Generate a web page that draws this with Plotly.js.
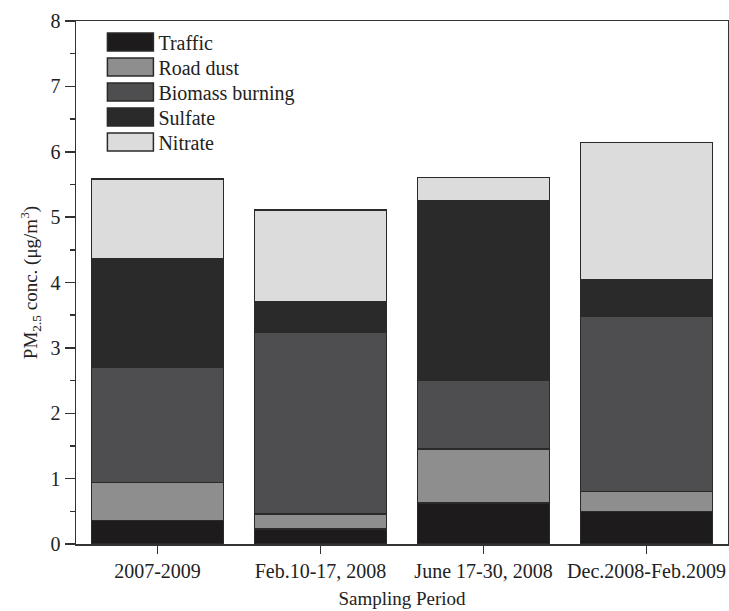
<!DOCTYPE html>
<html>
<head>
<meta charset="utf-8">
<script src="https://cdn.plot.ly/plotly-3.0.1.min.js"></script>
<style>
  html, body { margin: 0; padding: 0; background: #ffffff; }
  #chart { width: 729px; height: 611px; }
</style>
</head>
<body>
<div id="chart"></div>
<script>
// Sampling periods (x categories)
const periods = ['2007-2009', 'Feb.10-17, 2008', 'June 17-30, 2008', 'Dec.2008-Feb.2009'];

// Source contributions to PM2.5, µg/m3, stacked bottom to top
const traffic  = [0.36, 0.23, 0.63, 0.50];
const roadDust = [0.58, 0.23, 0.82, 0.30];
const biomass  = [1.76, 2.78, 1.06, 2.68];
const sulfate  = [1.66, 0.47, 2.74, 0.56];
const nitrate  = [1.22, 1.40, 0.36, 2.10];

const sourceNames = ['Traffic', 'Road dust', 'Biomass burning', 'Sulfate', 'Nitrate'];
const sourceValues = [traffic, roadDust, biomass, sulfate, nitrate];
const fills = ['#1e1b1c', '#8e8e8e', '#4e4e50', '#2b2a2b', '#dcdcdd'];

const serif = 'Liberation Serif, Times New Roman, serif';
const ink = '#222222';

const traces = sourceNames.map((name, i) => ({
  type: 'bar',
  name: name,
  x: periods,
  y: sourceValues[i],
  marker: { color: fills[i], line: { color: '#2a2a2a', width: 1.5 } },
  hoverinfo: 'name+y'
}));

const layout = {
  width: 729,
  height: 611,
  margin: { l: 76, r: 1, t: 21, b: 67 },
  paper_bgcolor: '#ffffff',
  plot_bgcolor: '#ffffff',
  barmode: 'stack',
  bargap: 0.19,
  font: { family: serif, size: 20, color: ink },
  showlegend: true,
  legend: {
    x: 0.0405, y: 0.997, xanchor: 'left', yanchor: 'top',
    bgcolor: 'rgba(0,0,0,0)', borderwidth: 0,
    traceorder: 'normal', itemwidth: 46,
    font: { family: serif, size: 20, color: ink }
  },
  xaxis: {
    type: 'category',
    showline: true, linecolor: '#333333', linewidth: 1.5, mirror: true,
    ticks: 'outside', ticklen: 8, tickwidth: 1.5, tickcolor: '#333333',
    showgrid: false, zeroline: false,
    tickfont: { family: serif, size: 20, color: ink },
    title: { text: 'Sampling Period', font: { family: serif, size: 19, color: ink }, standoff: 11 }
  },
  // boundary ticks between the period categories
  xaxis2: {
    overlaying: 'x', anchor: 'y', range: [-0.5, 3.5],
    tickvals: [0.5, 1.5, 2.5], ticks: 'outside', ticklen: 5, tickwidth: 1.5, tickcolor: '#333333',
    showticklabels: false, showgrid: false, zeroline: false, showline: false
  },
  yaxis: {
    range: [0, 8], dtick: 1,
    showline: true, linecolor: '#333333', linewidth: 1.5, mirror: true,
    ticks: 'outside', ticklen: 10, tickwidth: 1.5, tickcolor: '#333333',
    minor: { dtick: 0.5, ticks: 'outside', ticklen: 5, tickwidth: 1.5, tickcolor: '#333333' },
    showgrid: false, zeroline: false,
    tickfont: { family: serif, size: 20, color: ink },
    title: { text: 'PM<sub>2.5</sub> conc. (μg/m<sup>3</sup>)', font: { family: serif, size: 19, color: ink }, standoff: 8 }
  },
  // inner half of the crossing major ticks on the y axis
  yaxis2: {
    overlaying: 'y', anchor: 'x', side: 'left', range: [0, 8], dtick: 1,
    ticks: 'inside', ticklen: 7, tickwidth: 1.5, tickcolor: '#333333',
    showticklabels: false, showgrid: false, zeroline: false, showline: false
  }
};

// Legend rows are packed tighter than Plotly's default line height
const legendRowStep = 25;

Plotly.newPlot('chart', traces, layout, { displayModeBar: false, staticPlot: true }).then(() => {
  const legend = document.querySelector('#chart .legend');
  // wide rectangular swatches in the legend
  legend.querySelectorAll('.legendpoints path').forEach(p => {
    p.setAttribute('d', 'M23,9H-23V-9H23Z');
    p.style.strokeWidth = '1.5px';
  });
  const rows = legend.querySelectorAll('.traces');
  let y0 = null;
  rows.forEach((row, i) => {
    const m = /translate\(\s*([-\d.]+)[ ,]+([-\d.]+)\s*\)/.exec(row.getAttribute('transform') || '');
    if (!m) return;
    if (y0 === null) y0 = parseFloat(m[2]);
    row.setAttribute('transform', 'translate(' + m[1] + ',' + (y0 + i * legendRowStep) + ')');
  });
});
</script>
</body>
</html>
